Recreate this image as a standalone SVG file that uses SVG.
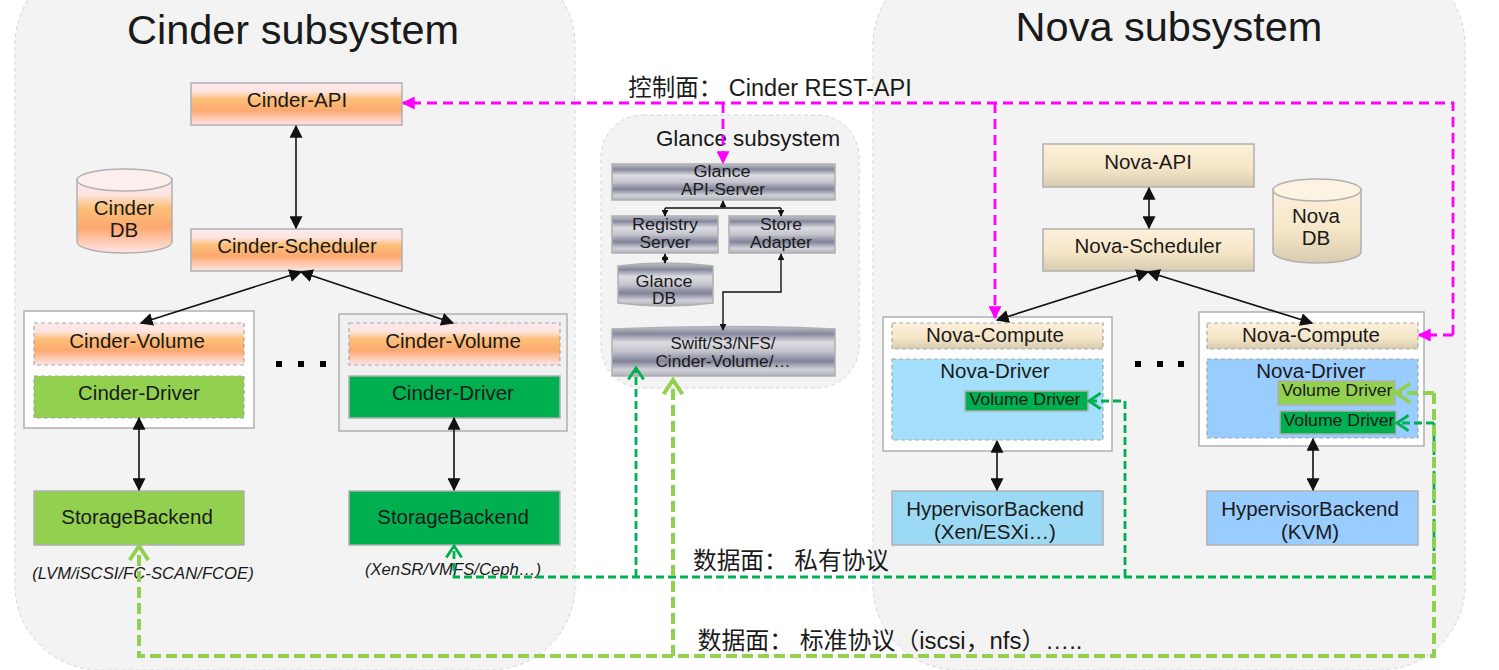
<svg xmlns="http://www.w3.org/2000/svg" width="1499" height="670" viewBox="0 0 1499 670">
<style>
text{font-family:"Liberation Sans","Noto Sans CJK SC",sans-serif;fill:#1a1a1a;text-anchor:middle}
.panel{fill:#f3f3f3;stroke:#d4d4d4;stroke-dasharray:4 3}
.box{stroke:#b0b0b0;stroke-width:1.5}
.dash{stroke:#a8a8a8;stroke-width:1.2;stroke-dasharray:4 3}
.t18{font-size:20.500px}.t16{font-size:16px}
.it{font-size:16.700px;font-style:italic}
.lg{fill:#92d050}.dg{fill:#00b050}
.black{fill:none;stroke:#111;stroke-width:1.6;marker-start:url(#ab);marker-end:url(#ab)}
.mag{fill:none;stroke:#ff00ff;stroke-width:2.8;stroke-dasharray:10 6}
.gd{fill:none;stroke:#00b050;stroke-width:2.800;stroke-dasharray:8 4}
.gl{fill:none;stroke:#92d050;stroke-width:4;stroke-dasharray:11 5}
</style>
<defs>
<linearGradient id="or" x1="0" y1="0" x2="0" y2="1"><stop offset="0" stop-color="#fde8ea"/><stop offset=".2" stop-color="#fde4e2"/><stop offset=".38" stop-color="#fcc078"/><stop offset=".65" stop-color="#fda870"/><stop offset="1" stop-color="#fde6e8"/></linearGradient>
<linearGradient id="be" x1="0" y1="0" x2="0" y2="1"><stop offset="0" stop-color="#fdf0da"/><stop offset=".55" stop-color="#f5e6c8"/><stop offset="1" stop-color="#d8cbb0"/></linearGradient>
<linearGradient id="gr" x1="0" y1="0" x2="0" y2="1"><stop offset="0" stop-color="#c0c2ca"/><stop offset=".15" stop-color="#86889c"/><stop offset=".32" stop-color="#dcdde2"/><stop offset=".5" stop-color="#c4c5cd"/><stop offset=".7" stop-color="#808298"/><stop offset=".87" stop-color="#d0d1d8"/><stop offset="1" stop-color="#b0b1ba"/></linearGradient>
<marker id="ab" viewBox="0 0 10 10" refX="9" refY="5" markerWidth="13" markerHeight="13" markerUnits="userSpaceOnUse" orient="auto-start-reverse"><path d="M0 0L10 5L0 10Z" fill="#111"/></marker>
<marker id="as" viewBox="0 0 10 10" refX="9" refY="5" markerWidth="7" markerHeight="7" markerUnits="userSpaceOnUse" orient="auto-start-reverse"><path d="M0 0L10 5L0 10Z" fill="#111"/></marker>
<marker id="am" viewBox="0 0 10 10" refX="9" refY="5" markerWidth="13" markerHeight="13" markerUnits="userSpaceOnUse" orient="auto"><path d="M0 0L10 5L0 10Z" fill="#ff00ff"/></marker>
<marker id="cd" viewBox="0 0 14 14" refX="12" refY="7" markerWidth="18" markerHeight="18" markerUnits="userSpaceOnUse" orient="auto"><path d="M3 1L12 7L3 13" fill="none" stroke="#00b050" stroke-width="2.200"/></marker>
<marker id="cl" viewBox="0 0 14 14" refX="12" refY="7" markerWidth="22" markerHeight="22" markerUnits="userSpaceOnUse" orient="auto"><path d="M3 1L12 7L3 13" fill="none" stroke="#92d050" stroke-width="2.500"/></marker>
</defs>

<g id="panels">
<rect class="panel" x="15" y="-40" width="560" height="710" rx="85"/>
<rect class="panel" x="873" y="-40" width="592" height="710" rx="85"/>
<rect class="panel" x="601" y="115" width="258" height="273" rx="42"/>
</g>
<text x="293" y="44" font-size="41.500">Cinder subsystem</text>
<text x="1169" y="41" font-size="41.500">Nova subsystem</text>
<text x="748" y="146" font-size="22.400">Glance subsystem</text>
<text x="770" y="96" font-size="23.500">控制面： Cinder REST-API</text>
<text x="791" y="569" font-size="23.500" textLength="196" lengthAdjust="spacingAndGlyphs">数据面： 私有协议</text>
<text x="890" y="649" font-size="23.500" textLength="385" lengthAdjust="spacingAndGlyphs">数据面： 标准协议（iscsi，nfs）…..</text>

<g id="cinder-api"><rect class="box" x="191" y="83" width="211" height="42" fill="url(#or)"/><text class="t18" x="297" y="107">Cinder-API</text></g>
<g id="cinder-scheduler"><rect class="box" x="191" y="229" width="211" height="42" fill="url(#or)"/><text class="t18" x="297" y="253">Cinder-Scheduler</text></g>
<g id="cinder-db"><path class="box" d="M77 180V242C77 248 98 253 124.500 253S172 248 172 242V180Z" fill="url(#or)"/><ellipse class="box" cx="124.500" cy="180" rx="47.500" ry="11" fill="#fdeeee"/><text class="t18" x="124" y="215">Cinder</text><text class="t18" x="124" y="237">DB</text></g>

<g id="cinder-host-1"><rect class="box" x="24" y="311" width="230" height="117" fill="#fff"/>
<rect class="dash" x="34" y="323" width="210" height="42" fill="url(#or)"/><text class="t18" x="137" y="348">Cinder-Volume</text>
<rect class="dash lg" x="34" y="376" width="210" height="42"/><text class="t18" x="139" y="400">Cinder-Driver</text></g>
<g id="cinder-host-2"><rect class="box" x="339" y="314" width="228" height="117" fill="#f0f0f0"/>
<rect class="dash" x="349" y="323" width="211" height="42" fill="url(#or)"/><text class="t18" x="453" y="348">Cinder-Volume</text>
<rect class="box dg" x="349" y="376" width="211" height="42"/><text class="t18" x="453" y="400">Cinder-Driver</text></g>
<g id="storage-1"><rect class="box lg" x="34" y="491" width="210" height="54"/><text class="t18" x="137" y="524">StorageBackend</text><text class="it" x="143" y="579">(LVM/iSCSI/FC-SCAN/FCOE)</text></g>
<g id="storage-2"><rect class="box dg" x="349" y="491" width="211" height="54"/><text class="t18" x="453" y="524">StorageBackend</text><text class="it" x="453" y="575">(XenSR/VMFS/Ceph…)</text></g>
<g id="cinder-dots"><rect x="276" y="361" width="6" height="6" fill="#000"/><rect x="298" y="361" width="6" height="6" fill="#000"/><rect x="320" y="361" width="6" height="6" fill="#000"/></g>

<g id="glance-api"><rect class="box" x="612" y="164" width="223" height="36" fill="url(#gr)"/><text class="t16" x="722" y="177" textLength="57" lengthAdjust="spacingAndGlyphs">Glance</text><text class="t16" x="723" y="195" textLength="84" lengthAdjust="spacingAndGlyphs">API-Server</text></g>
<g id="glance-registry"><rect class="box" x="612" y="216" width="106" height="37" fill="url(#gr)"/><text class="t16" x="665" y="230" textLength="66" lengthAdjust="spacingAndGlyphs">Registry</text><text class="t16" x="665" y="248" textLength="51" lengthAdjust="spacingAndGlyphs">Server</text></g>
<g id="glance-store"><rect class="box" x="729" y="216" width="106" height="37" fill="url(#gr)"/><text class="t16" x="781" y="230" textLength="42" lengthAdjust="spacingAndGlyphs">Store</text><text class="t16" x="781" y="248" textLength="62" lengthAdjust="spacingAndGlyphs">Adapter</text></g>
<g id="glance-db"><path class="box" d="M618 266V303Q665 309 713 303V266Q665 260 618 266Z" fill="url(#gr)"/><text class="t16" x="664" y="287" textLength="57" lengthAdjust="spacingAndGlyphs">Glance</text><text class="t16" x="664" y="304" textLength="24" lengthAdjust="spacingAndGlyphs">DB</text></g>
<g id="glance-swift"><path class="box" d="M612 329V376H835V329Q723 324 612 329Z" fill="url(#gr)"/><text class="t16" x="723" y="349" textLength="105" lengthAdjust="spacingAndGlyphs">Swift/S3/NFS/</text><text class="t16" x="723" y="367" textLength="135" lengthAdjust="spacingAndGlyphs">Cinder-Volume/…</text></g>

<g id="nova-api"><rect class="box" x="1043" y="144" width="211" height="43" fill="url(#be)"/><text class="t18" x="1148" y="169">Nova-API</text></g>
<g id="nova-scheduler"><rect class="box" x="1043" y="229" width="211" height="42" fill="url(#be)"/><text class="t18" x="1148" y="253">Nova-Scheduler</text></g>
<g id="nova-db"><path class="box" d="M1273 190V252C1273 258 1293 263 1317 263S1361 258 1361 252V190Z" fill="url(#be)"/><ellipse class="box" cx="1317" cy="190" rx="44" ry="11" fill="#fdf3e2"/><text class="t18" x="1316" y="223">Nova</text><text class="t18" x="1316" y="245">DB</text></g>

<g id="nova-host-1"><rect class="box" x="883" y="317" width="229" height="134" fill="#fff"/>
<rect class="dash" x="892" y="323" width="211" height="26" fill="url(#be)"/><text class="t18" x="995" y="342">Nova-Compute</text>
<rect class="dash" x="892" y="359" width="211" height="81" fill="#a4e0fc"/><text class="t18" x="995" y="378">Nova-Driver</text>
<rect class="box dg" x="965" y="391" width="123" height="20"/><text class="t16" x="1025" y="405" textLength="111" lengthAdjust="spacingAndGlyphs">Volume Driver</text></g>
<g id="nova-host-2"><rect class="box" x="1199" y="312" width="225" height="134" fill="#fff"/>
<rect class="dash" x="1207" y="323" width="211" height="26" fill="url(#be)"/><text class="t18" x="1311" y="342">Nova-Compute</text>
<rect class="dash" x="1207" y="359" width="211" height="79" fill="#99ccff"/><text class="t18" x="1311" y="378">Nova-Driver</text>
<rect class="box lg" x="1278" y="381" width="117" height="24"/><text class="t16" x="1337" y="396" textLength="111" lengthAdjust="spacingAndGlyphs">Volume Driver</text>
<rect class="box dg" x="1280" y="411" width="116" height="23"/><text class="t16" x="1339" y="426" textLength="111" lengthAdjust="spacingAndGlyphs">Volume Driver</text></g>
<g id="hypervisor-1"><rect class="box" x="892" y="491" width="211" height="54" fill="#9bd9f4"/><text class="t18" x="995" y="516">HypervisorBackend</text><text class="t18" x="995" y="539">(Xen/ESXi…)</text></g>
<g id="hypervisor-2"><rect class="box" x="1207" y="491" width="211" height="54" fill="#99ccff"/><text class="t18" x="1310" y="516">HypervisorBackend</text><text class="t18" x="1310" y="539">(KVM)</text></g>
<g id="nova-dots"><rect x="1135" y="361" width="6" height="6" fill="#000"/><rect x="1157" y="361" width="6" height="6" fill="#000"/><rect x="1178" y="361" width="6" height="6" fill="#000"/></g>

<g id="connectors">
<path class="black" d="M296 126V228"/>
<path class="black" d="M301 272L141 323"/>
<path class="black" d="M301 272L453 323"/>
<path class="black" d="M139 418V490"/>
<path class="black" d="M454 418V490"/>
<path class="black" d="M1149 188V228"/>
<path class="black" d="M1148 272L997 320"/>
<path class="black" d="M1148 272L1312 323"/>
<path class="black" d="M997 441V490"/>
<path class="black" d="M1313 439V490"/>
<g style="fill:none;stroke:#111;stroke-width:1.4">
<path d="M665 208H781"/>
<path d="M723 208V201" marker-end="url(#as)"/>
<path d="M665 208V216" marker-end="url(#as)"/>
<path d="M781 208V216" marker-end="url(#as)"/>
<path d="M665 254V263" marker-start="url(#as)" marker-end="url(#as)"/>
<path d="M723 330V292H781V254" marker-start="url(#as)" marker-end="url(#as)"/>
</g>
<path class="mag" d="M1453 335V103H403" marker-end="url(#am)"/>
<path class="mag" d="M1453 335H1419" marker-end="url(#am)"/>
<path class="mag" d="M995 103V318" marker-end="url(#am)"/>
<path class="mag" d="M723 103V163" marker-end="url(#am)"/>
<path class="gd" d="M1434 423V577H454V546" marker-end="url(#cd)"/>
<path class="gd" d="M1434 423H1397" marker-end="url(#cd)"/>
<path class="gd" d="M1125 577V401H1089" marker-end="url(#cd)"/>
<path class="gd" d="M636 577V368" marker-end="url(#cd)"/>
<path class="gl" d="M1434 393V656H139V546" marker-end="url(#cl)"/>
<path class="gl" d="M1434 393H1396" marker-end="url(#cl)"/>
<path class="gl" d="M673 656V380" marker-end="url(#cl)"/>
</g>
</svg>
